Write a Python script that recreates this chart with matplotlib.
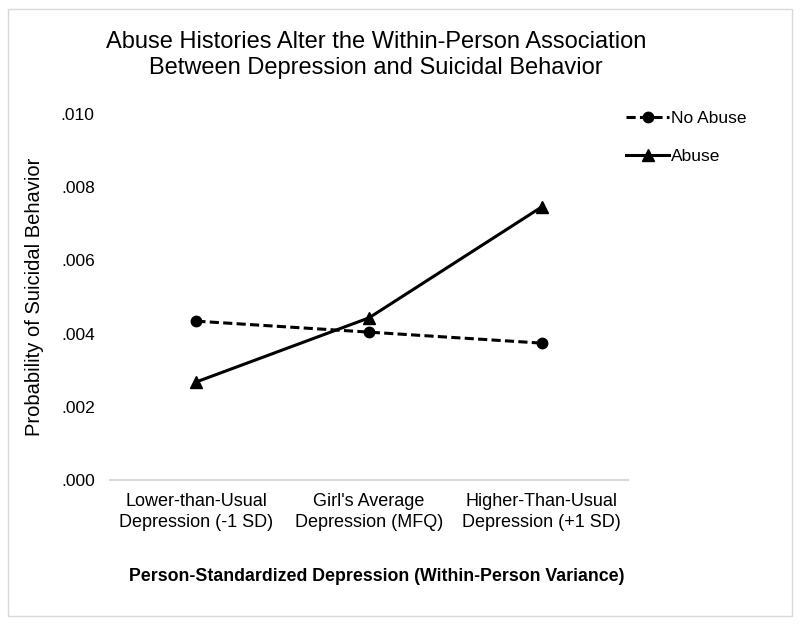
import matplotlib.pyplot as plt
from matplotlib.patches import Rectangle
from matplotlib.ticker import FuncFormatter

plt.rcParams['font.family'] = ['Liberation Sans', 'DejaVu Sans']

# data
categories = ['Lower-than-Usual\nDepression (-1 SD)',
              "Girl's Average\nDepression (MFQ)",
              'Higher-Than-Usual\nDepression (+1 SD)']
no_abuse = [0.00434, 0.00404, 0.00374]
abuse = [0.00268, 0.00443, 0.00746]
yticks = [0.000, 0.002, 0.004, 0.006, 0.008, 0.010]

fig = plt.figure(figsize=(8, 6.25), dpi=100)
ax = fig.add_axes([0.1375, 0.232, 0.6475, 0.5856])

x = list(range(len(categories)))
ax.plot(x, no_abuse, color='black', linestyle=(0, (3, 1.4)), linewidth=2.2,
        marker='o', markersize=7.5, label='No Abuse')
ax.plot(x, abuse, color='black', linestyle='-', linewidth=2.2,
        marker='^', markersize=9, label='Abuse')

ax.set_xlim(-0.5, 2.5)
ax.set_ylim(0, 0.010)
ax.set_yticks(yticks)
ax.yaxis.set_major_formatter(FuncFormatter(lambda v, p: ('%.3f' % v)[1:]))
ax.set_xticks(x)
ax.set_xticklabels(categories, fontsize=13, linespacing=1.35)
ax.tick_params(axis='y', labelsize=12.5, length=0, pad=11)
ax.tick_params(axis='x', length=0, pad=9)

for s in ['top', 'right', 'left']:
    ax.spines[s].set_visible(False)
ax.spines['bottom'].set_color('#d9d9d9')
ax.spines['bottom'].set_linewidth(1.5)

ax.set_ylabel('Probability of Suicidal Behavior', fontsize=14.5, labelpad=12)
ax.set_xlabel('Person-Standardized Depression (Within-Person Variance)',
              fontsize=12.8, fontweight='bold', va='center')
ax.xaxis.set_label_coords(0.515, -0.265)

fig.text(0.47, 0.912, 'Abuse Histories Alter the Within-Person Association\n'
         'Between Depression and Suicidal Behavior', ha='center', va='center',
         fontsize=17, linespacing=1.2)

fig.legend(loc='upper left', bbox_to_anchor=(0.763, 0.848), frameon=False,
           fontsize=12.5, handlelength=2.5, handletextpad=0.1, labelspacing=1.35)

fig.patches.append(Rectangle((8 / 800, 9 / 625), 784 / 800, 607 / 625,
                             transform=fig.transFigure, fill=False,
                             edgecolor='#d9d9d9', linewidth=1))

fig.savefig('out.png', dpi=100)
